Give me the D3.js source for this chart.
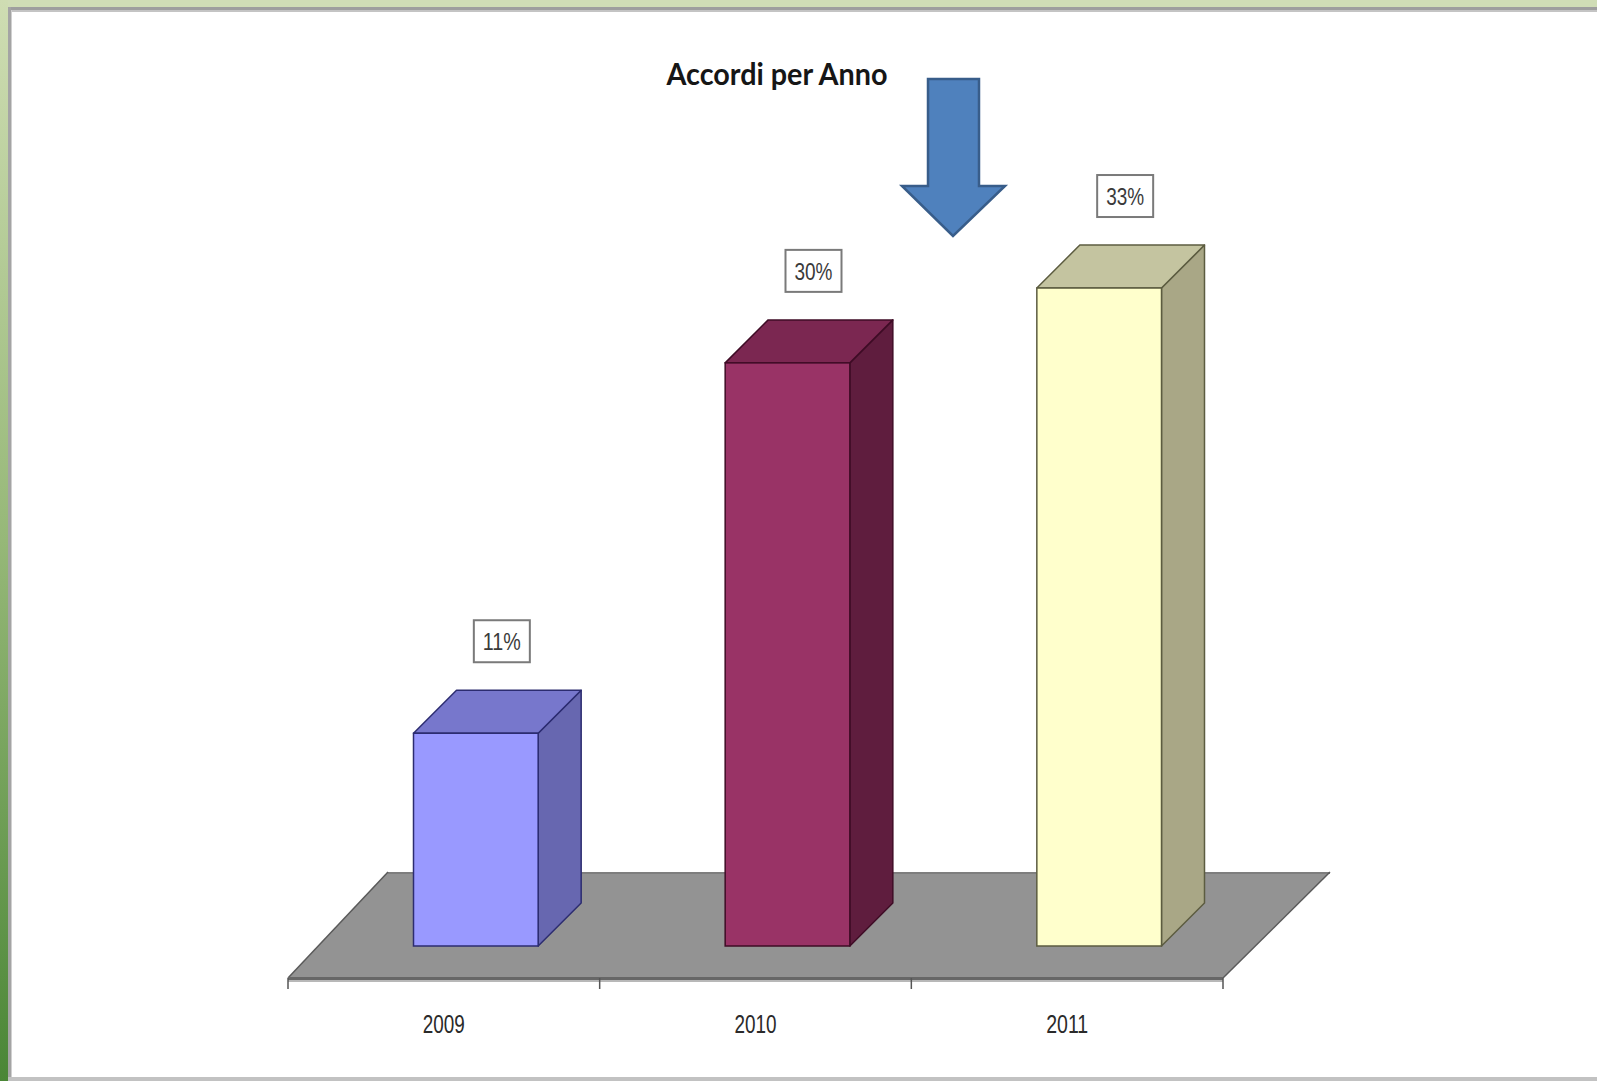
<!DOCTYPE html>
<html>
<head>
<meta charset="utf-8">
<script src="https://cdn.jsdelivr.net/npm/d3@7"></script>
<style>
  html, body { margin: 0; padding: 0; background: #fff; }
  svg { display: block; }
</style>
</head>
<body>
<svg id="chart" width="1597" height="1081"></svg>
<script>
// ---- data ----
const categories = ["2009", "2010", "2011"];
const values = [10.8, 29.6, 33.4];           // percent
const valueLabels = ["11%", "30%", "33%"];
const frontColors = ["#9999ff", "#993366", "#ffffcc"];
const sideColors  = ["#6767b0", "#5f1d3e", "#a9a786"];
const topColors   = ["#7777cc", "#7b2751", "#c4c4a0"];
const edgeColors  = ["#2c2c70", "#3f0c26", "#5c5c40"];
const chartTitle = "Accordi per Anno";

const svg = d3.select("#chart");
const W = 1597, H = 1081;

// ---- background frame ----
const defs = svg.append("defs");
const g1 = defs.append("linearGradient").attr("id", "leftGreen").attr("x1", 0).attr("y1", 0).attr("x2", 0).attr("y2", 1);
g1.append("stop").attr("offset", "0%").attr("stop-color", "#cfddb3");
g1.append("stop").attr("offset", "50%").attr("stop-color", "#96b878");
g1.append("stop").attr("offset", "100%").attr("stop-color", "#4a8636");

svg.append("rect").attr("x", 0).attr("y", 0).attr("width", W).attr("height", H).attr("fill", "#fff");
svg.append("rect").attr("x", 0).attr("y", 0).attr("width", W).attr("height", 7).attr("fill", "#d0ddb6");
svg.append("rect").attr("x", 0).attr("y", 0).attr("width", 8).attr("height", H).attr("fill", "url(#leftGreen)");
svg.append("rect").attr("x", 8).attr("y", 7).attr("width", W - 8).attr("height", 3).attr("fill", "#9e9e9e");
svg.append("rect").attr("x", 8).attr("y", 10).attr("width", W - 8).attr("height", 2).attr("fill", "#c4c4c4");
svg.append("rect").attr("x", 8).attr("y", 7).attr("width", 3).attr("height", H - 7).attr("fill", "#a4a4a4");
svg.append("rect").attr("x", 11).attr("y", 10).attr("width", 1).attr("height", H - 10).attr("fill", "#d0d0d0");
svg.append("rect").attr("x", 8).attr("y", H - 4).attr("width", W - 8).attr("height", 4).attr("fill", "#c2c2c2");

// ---- title ----
svg.append("text")
  .attr("x", 777).attr("y", 85)
  .attr("text-anchor", "middle")
  .attr("font-family", "Lato, 'Open Sans', sans-serif")
  .attr("font-weight", "bold")
  .attr("font-size", 30)
  .attr("fill", "#161616")
  .attr("textLength", 221)
  .attr("lengthAdjust", "spacingAndGlyphs")
  .text(chartTitle);

// ---- arrow ----
const arrow = d3.path();
arrow.moveTo(928, 79); arrow.lineTo(979, 79); arrow.lineTo(979, 186);
arrow.lineTo(1005, 186); arrow.lineTo(953, 236); arrow.lineTo(902, 186);
arrow.lineTo(928, 186); arrow.closePath();
svg.append("path").attr("d", arrow.toString())
  .attr("fill", "#4f81bd").attr("stroke", "#385d8a").attr("stroke-width", 2.5)
  .attr("stroke-linejoin", "miter");

// ---- scales ----
const floorFrontY = 978;
const floorDepthY = 106;         // vertical projection of floor depth
const floorDxLeft = 100;         // horizontal projection, left edge
const floorDxRight = 107;        // horizontal projection, right edge
const barSetback = 32;           // bars sit this far back into the floor
const barDepth = 43;
const x = d3.scaleBand().domain(categories).range([288, 1223]).padding(0);
const h = d3.scaleLinear().domain([0, 40]).range([0, 788]);
const barW = x.bandwidth() * 0.4;
const baseY = floorFrontY - barSetback;   // bottom of bar front faces

// ---- floor ----
const fx0 = x.range()[0], fx1 = x.range()[1];
const floor = d3.path();
floor.moveTo(fx0, floorFrontY); floor.lineTo(fx0 + floorDxLeft, floorFrontY - floorDepthY);
floor.lineTo(fx1 + floorDxRight, floorFrontY - floorDepthY); floor.lineTo(fx1, floorFrontY); floor.closePath();
svg.append("path").attr("d", floor.toString()).attr("fill", "#939393");
svg.append("line").attr("x1", fx0 + floorDxLeft).attr("x2", fx1 + floorDxRight)
  .attr("y1", floorFrontY - floorDepthY + 1).attr("y2", floorFrontY - floorDepthY + 1)
  .attr("stroke", "#7e7e7e").attr("stroke-width", 2);
svg.append("line").attr("x1", fx0).attr("y1", floorFrontY).attr("x2", fx0 + floorDxLeft).attr("y2", floorFrontY - floorDepthY)
  .attr("stroke", "#5a5a5a").attr("stroke-width", 1.5);
svg.append("line").attr("x1", fx1).attr("y1", floorFrontY).attr("x2", fx1 + floorDxRight).attr("y2", floorFrontY - floorDepthY)
  .attr("stroke", "#5a5a5a").attr("stroke-width", 1.5);
svg.append("rect").attr("x", fx0).attr("y", floorFrontY - 1).attr("width", fx1 - fx0).attr("height", 3).attr("fill", "#676767");
svg.append("rect").attr("x", fx0).attr("y", floorFrontY + 2).attr("width", fx1 - fx0).attr("height", 2).attr("fill", "#b8b8b8");

// ticks
const tickXs = categories.map(c => x(c)).concat([fx1]);
svg.selectAll("line.tick").data(tickXs).enter().append("line")
  .attr("class", "tick")
  .attr("x1", d => d).attr("x2", d => d)
  .attr("y1", floorFrontY).attr("y2", floorFrontY + 11)
  .attr("stroke", "#555").attr("stroke-width", 1.5);

// category labels
svg.selectAll("text.cat").data(categories).enter().append("text")
  .attr("class", "cat")
  .attr("x", d => x(d) + x.bandwidth() / 2)
  .attr("y", 1033)
  .attr("text-anchor", "middle")
  .attr("font-family", "'Liberation Sans Narrow', 'Arial Narrow', 'Liberation Sans', sans-serif")
  .attr("font-size", 26)
  .attr("fill", "#2a2a2a")
  .attr("textLength", 42)
  .attr("lengthAdjust", "spacingAndGlyphs")
  .text(d => d);

// ---- bars ----
const bars = categories.map((c, i) => {
  const x0 = x(c) + x.bandwidth() / 2 - barW / 2 + barSetback;
  const x1 = x0 + barW;
  const yTop = baseY - h(values[i]);
  return { c, i, x0, x1, yTop };
});

const barG = svg.selectAll("g.bar").data(bars).enter().append("g").attr("class", "bar");

barG.append("path")
  .attr("d", d => {
    const p = d3.path();
    p.moveTo(d.x1, d.yTop); p.lineTo(d.x1 + barDepth, d.yTop - barDepth);
    p.lineTo(d.x1 + barDepth, baseY - barDepth); p.lineTo(d.x1, baseY); p.closePath();
    return p.toString();
  })
  .attr("fill", d => sideColors[d.i]).attr("stroke", d => edgeColors[d.i]).attr("stroke-width", 1.5)
  .attr("stroke-linejoin", "round");
barG.append("path")
  .attr("d", d => {
    const p = d3.path();
    p.moveTo(d.x0, d.yTop); p.lineTo(d.x0 + barDepth, d.yTop - barDepth);
    p.lineTo(d.x1 + barDepth, d.yTop - barDepth); p.lineTo(d.x1, d.yTop); p.closePath();
    return p.toString();
  })
  .attr("fill", d => topColors[d.i]).attr("stroke", d => edgeColors[d.i]).attr("stroke-width", 1.5)
  .attr("stroke-linejoin", "round");
barG.append("rect")
  .attr("x", d => d.x0).attr("y", d => d.yTop)
  .attr("width", barW).attr("height", d => baseY - d.yTop)
  .attr("fill", d => frontColors[d.i]).attr("stroke", d => edgeColors[d.i]).attr("stroke-width", 1.5);

// ---- value labels ----
const lab = barG.append("g")
  .attr("transform", d => `translate(${d.x0 + barW / 2 + 26},${d.yTop - 92})`);
lab.append("rect")
  .attr("x", -28).attr("y", -21).attr("width", 56).attr("height", 42)
  .attr("fill", "#fff").attr("stroke", "#7a7a7a").attr("stroke-width", 2);
lab.append("text")
  .attr("x", 0).attr("y", 9)
  .attr("text-anchor", "middle")
  .attr("font-family", "'Liberation Sans Narrow', 'Arial Narrow', 'Liberation Sans', sans-serif")
  .attr("font-size", 24)
  .attr("fill", "#3a3a3a")
  .attr("textLength", 38)
  .attr("lengthAdjust", "spacingAndGlyphs")
  .text(d => valueLabels[d.i]);
</script>
</body>
</html>
